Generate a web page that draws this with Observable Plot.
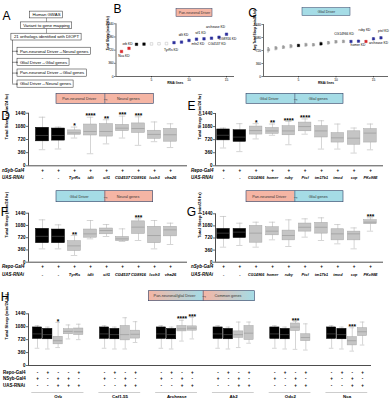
<!DOCTYPE html>
<html><head><meta charset="utf-8">
<script src="https://cdn.jsdelivr.net/npm/d3@7"></script>
<script src="https://cdn.jsdelivr.net/npm/@observablehq/plot@0.6"></script>
<style>
html,body{margin:0;padding:0;background:#fff;}
#fig{position:relative;width:392px;height:400px;overflow:hidden;background:#fff;color:#000;}
#fig svg{position:absolute;}
</style></head><body><div id="fig"></div>
<script>
// ---------------- DATA ----------------
const flowTop = ["Human GWAS", "Variant to gene mapping", "21 orthologs identified with DIOPT"];
const flowBranch = ["Pan-neuronal Driver\u2192Neural genes", "Glial Driver\u2192Glial genes", "Pan-neuronal Driver\u2192Glial genes", "Glial Driver\u2192Neural genes"];

// B: pan-neuronal screen
const bLine = [1,2,3,4,5,6,7,8,9,10,11,12,13,14,15];
const bSleep = [683,770,880,885,890,895,900,925,940,985,1020,1030,1046,1073,1155];
const bClass = ["short","short","control","control","ns","ns","ns","long","long","long","long","long","long","long","long"];
const bLabelText = ["Nca KD","orb KD","TyrRs KD","idlt KD","mfe2 KD","sif1 KD","CG4537 KD","CG8916 KD","archease KD"];
const bLabelLine = [1,2,8,9,12,11,14,15,15];

// C: glial screen
const cLine = [1,2,3,4,5,6,7,8,9,10,11,12,13,14,15,16];
const cSleep = [740,784,812,840,859,878,878,906,933,961,970,970,978,970,1044,1071];
const cSem = [60,45,35,45,30,40,30,45,35,35,30,25,25,25,30,30];
const cClass = ["ns","ns","ns","ns","control","ns","ns","control","ns","ns","ns","long","long","short","long","long"];
const cLabelText = ["CG14966 KD","homer KD","ruby KD","archease KD","ptsf KD"];
const cLabelLine = [12,13,15,14,16];

// D: pan-neuronal driver -> neural genes
const dGenes = ["-","-","TyrRs","idlt","sif1","CG4537","CG8916","lcch3","vha26"];
const dDriver = ["+","+","+","+","+","+","+","+","+"];
const dMin = [440,460,760,330,600,760,560,660,500];
const dQ1  = [670,690,850,830,800,950,900,740,660];
const dMed = [830,830,900,940,940,1030,1020,860,850];
const dQ3  = [1040,1020,970,1130,1140,1120,1160,960,1010];
const dMax = [1330,1060,1060,1330,1260,1360,1340,1200,1150];
const dSig = ["","","*","****","**","***","***","",""];

// E: glial driver -> glial genes
const eGenes = ["-","-","CG14966","homer","ruby","Ptsf","tm17b1","tmod","svp","PKc98E"];
const eDriver = ["+","+","+","+","+","+","+","+","+","+"];
const eMin = [490,390,740,840,580,870,460,460,350,440];
const eQ1  = [700,660,860,880,840,950,780,640,580,640];
const eMed = [840,790,970,960,960,1080,960,770,760,900];
const eQ3  = [1000,980,1080,1040,1090,1190,1090,900,950,1010];
const eMax = [1040,1160,1160,1150,1220,1290,1240,1150,1040,1150];
const eSig = ["","","*","**","****","****","","","",""];

// F: glial driver -> neural genes
const fGenes = dGenes;
const fDriver = ["+","+","+","+","+","+","+","+","+"];
const fMin = [392,392,196,686,755,608,637,392,520];
const fQ1  = [560,560,330,720,820,620,830,560,760];
const fMed = [760,760,480,833,930,686,1030,784,950];
const fQ3  = [980,960,620,960,990,740,1200,1040,1040];
const fMax = [1245,1098,784,1225,1107,980,1274,1225,1147];
const fSig = ["","","**","","","","***","",""];

// G: pan-neuronal driver -> glial genes
const gGenes = eGenes;
const gDriver = ["+","+","+","+","+","+","+","+","+","+"];
const gMin = [447,497,447,665,467,745,645,546,397,923];
const gQ1  = [690,720,580,800,650,910,850,650,650,1130];
const gMed = [864,894,864,923,794,1040,1040,844,844,1190];
const gQ3  = [990,990,1080,1040,940,1150,1170,980,910,1250];
const gMax = [1360,1160,1190,1190,1260,1290,1320,1120,1020,1320];
const gSig = ["","","","","","","","","","***"];

// H: common genes
const hGenes = ["Orb","Caf1-55","Archease","Ak2","Odc2","Nca"];
const hCount = [5,4,4,4,4,4];
const hRepo = ["-","+","-","-","+", "-","+","-","+", "-","+","-","+", "-","+","-","+", "-","+","-","+", "-","+","-","+"];
const hNsyb = ["+","-","+","+","-", "+","-","+","-", "+","-","+","-", "+","-","+","-", "+","-","+","-", "+","-","+","-"];
const hUas  = ["-","-","+","+","+", "-","-","+","+", "-","-","+","+", "-","-","+","+", "-","-","+","+", "-","-","+","+"];
const hMin = [480,460,500,740,720, 480,460,460,640, 480,460,680,740, 480,460,500,620, 480,460,450,430, 480,460,400,570];
const hQ1  = [740,730,590,870,850, 740,730,700,750, 740,730,950,970, 740,730,770,710, 740,730,960,680, 740,730,560,820];
const hMed = [880,860,690,950,940, 880,860,860,870, 880,860,1020,1040, 880,860,860,900, 880,860,1070,780, 880,860,690,940];
const hQ3  = [1060,1020,800,1010,1030, 1060,1020,1100,970, 1060,1020,1100,1090, 1060,1020,950,1100, 1060,1020,1170,870, 1060,1020,790,1040];
const hMax = [1110,1070,1200,1130,1150, 1110,1070,1330,1220, 1110,1070,1260,1340, 1110,1070,1210,1210, 1110,1070,1230,1160, 1110,1070,1050,1210];
const hSig = ["","","*","","", "","","","", "","","****","***", "","","","", "","","***","", "","","***",""];

const sleepTicks = [0,360,720,1080,1440];

// ---------------- STYLE / LAYOUT ----------------
const FONT = '"Liberation Sans", Arial, sans-serif';
const PINK = "#f5b5a4", BLUE = "#a5dce6", BORDER = "#2e3f63";
const WHISK = "#b8b8b8";
const PCOL = {short:"#d9262a", control:"#000000", ns:"#a8a8a8", long:"#2c2f9c"};
const fig = document.getElementById("fig");
function place(svg, left, top){ svg.style.left = left+"px"; svg.style.top = top+"px"; fig.appendChild(svg); }
const fmt = d => String(d);

function boxPanel(c){
  const data = c.pos.map((p,i)=>({p, i, lo:c.lo[i], q1:c.q1[i], med:c.med[i], q3:c.q3[i], hi:c.hi[i], ctrl:c.ctrl[i], star:c.sig[i]}));
  const p0 = c.pos[0];
  const xL = p0 + (c.fx0 - c.c0)/c.step, xR = p0 + (c.fx1 - c.c0)/c.step;
  const hw = c.bw/2/c.step, cw = hw*0.5;
  const marks = [
    Plot.ruleX(data,{x:"p", y1:"lo", y2:"hi", stroke:WHISK, strokeWidth:0.6}),
    Plot.ruleY(data,{y:"lo", x1:d=>d.p-cw, x2:d=>d.p+cw, stroke:WHISK, strokeWidth:0.6}),
    Plot.ruleY(data,{y:"hi", x1:d=>d.p-cw, x2:d=>d.p+cw, stroke:WHISK, strokeWidth:0.6}),
    Plot.rect(data,{x1:d=>d.p-hw, x2:d=>d.p+hw, y1:"q1", y2:"q3", fill:d=>d.ctrl?"#000":"#c5c5c5", stroke:d=>d.ctrl?"#000":"#a6a6a6", strokeWidth:0.5}),
    Plot.ruleY(data,{y:"med", x1:d=>d.p-hw, x2:d=>d.p+hw, stroke:d=>d.ctrl?"#6d6d6d":"#8a8a8a", strokeWidth:0.5}),
    Plot.text(data.filter(d=>d.star),{x:"p", y:"hi", text:"star", lineAnchor:"bottom", dy:c.starDy, fontSize:c.starFs, fontWeight:"bold"}),
    Plot.ruleX([xL],{strokeWidth:0.7}),
    Plot.ruleY([0],{strokeWidth:0.7}),
    Plot.axisY({ticks:sleepTicks, tickFormat:fmt, tickSize:2, tickPadding:1, fontSize:c.tickFs, fontWeight:"bold", label:null, strokeWidth:0.6}),
    Plot.text([c.title],{frameAnchor:"left", dx:c.titleX-c.fx0, rotate:-90, text:d=>d, fontSize:c.titleFs, fontWeight:"bold"})
  ];
  c.rows.forEach((r,k)=>{
    marks.push(Plot.text(data,{x:"p", text:d=>r.vals[d.i], frameAnchor:"bottom", dy:c.rowDy[k], fontSize:r.fs||c.rowFs, fontWeight:"bold", fontStyle:r.italic?"italic":"normal"}));
    marks.push(Plot.text([r.name],{frameAnchor:"bottom-left", dx:c.rowX-c.fx0, dy:c.rowDy[k], text:d=>d, textAnchor:"start", fontSize:c.rowFs, fontWeight:"bold", fontStyle:c.rowItalic?"italic":"normal"}));
  });
  if (c.extra) marks.push(...c.extra(xL, xR));
  return Plot.plot({
    width:c.width, height:c.height,
    marginLeft:c.fx0-c.left, marginRight:c.left+c.width-c.fx1,
    marginTop:c.fyTop-c.top, marginBottom:c.top+c.height-c.fy0,
    x:{domain:[xL,xR], axis:null}, y:{domain:[0,1440]},
    color:{type:"identity"},
    style:{background:"none", fontFamily:FONT, overflow:"visible"},
    marks
  });
}

function scatterPanel(c){
  const data = c.idx.map((x,i)=>({x, y:c.val[i], k:c.cls[i], e:c.err?c.err[i]:0}));
  const xL = (c.fx0 - c.zeroX)/c.stepx, xR = (c.fx1 - c.zeroX)/c.stepx;
  const pxY = 1440/(c.fy0 - c.fyTop);
  // label anchors: data point shifted by a pixel offset converted to data units
  const lab = c.labText.map((t,j)=>({t, x:c.labLine[j] + c.labDx[j]/c.stepx, y:c.val[c.labLine[j]-1] - c.labDy[j]*pxY, a:c.labAnchor[j]}));
  const marks = [];
  if (c.err) {
    marks.push(Plot.ruleX(data,{x:"x", y1:d=>d.y-d.e, y2:d=>d.y+d.e, stroke:"#666", strokeWidth:0.4}));
    marks.push(Plot.ruleY(data,{y:d=>d.y-d.e, x1:d=>d.x-0.13, x2:d=>d.x+0.13, stroke:"#666", strokeWidth:0.4}));
    marks.push(Plot.ruleY(data,{y:d=>d.y+d.e, x1:d=>d.x-0.13, x2:d=>d.x+0.13, stroke:"#666", strokeWidth:0.4}));
  }
  marks.push(
    Plot.dot(data,{x:"x", y:"y", symbol:"square", r:c.r, fill:d=>d.k==="ns"?(c.err?"#999":"#fff"):PCOL[d.k], stroke:d=>PCOL[d.k], strokeWidth:0.4}),
    ...["start","middle"].map(a=>Plot.text(lab.filter(l=>l.a===a),{x:"x", y:"y", text:"t", textAnchor:a, fontSize:c.labFs})),
    Plot.ruleX([xL],{strokeWidth:0.6}),
    Plot.ruleY([0],{strokeWidth:0.6}),
    Plot.axisY({ticks:sleepTicks, tickFormat:fmt, tickSize:1.5, tickPadding:0.8, fontSize:3.3, label:null, strokeWidth:0.5}),
    Plot.axisX({ticks:[5,10,15], tickFormat:fmt, tickSize:1.5, tickPadding:0.6, fontSize:3.3, label:null, strokeWidth:0.5}),
    Plot.text(["RNAi lines"],{frameAnchor:"bottom", dy:7.5, text:d=>d, fontSize:3.2, fontWeight:"bold"}),
    Plot.text([c.title],{frameAnchor:"left", dx:c.titleX-c.fx0, rotate:-90, text:d=>d, fontSize:3.2, fontWeight:"bold"})
  );
  return Plot.plot({
    width:c.width, height:c.height,
    marginLeft:c.fx0-c.left, marginRight:c.left+c.width-c.fx1,
    marginTop:c.fyTop-c.top, marginBottom:c.top+c.height-c.fy0,
    x:{domain:[xL,xR]}, y:{domain:[0,1440]},
    color:{type:"identity"},
    style:{background:"none", fontFamily:FONT, overflow:"visible"},
    marks
  });
}

// ---- B ----
place(scatterPanel({
  left:100, top:0, width:145, height:90, fx0:115.5, fx1:234, fyTop:23.3, fy0:76,
  zeroX:113.5, stepx:7.5, idx:bLine, val:bSleep, cls:bClass, r:1.45,
  labText:bLabelText, labLine:bLabelLine,
  labDx:[2.5,-1.5,-3,2,-6,4,-2,1,-11], labDy:[4.5,-4.5,7.5,-7.5,5.2,-6,6.8,4.6,-7.5],
  labAnchor:["middle","middle","middle","middle","middle","middle","middle","middle","middle"], labFs:3.3,
  title:"Total Sleep (min/24 hr)", titleX:107.5
}), 100, 0);

// ---- C ----
place(scatterPanel({
  left:245, top:0, width:147, height:90, fx0:263, fx1:388, fyTop:24, fy0:76,
  zeroX:260.5, stepx:7.5, idx:cLine, val:cSleep, err:cSem, cls:cClass, r:1.35,
  labText:cLabelText, labLine:cLabelLine,
  labDx:[-7,-0.5,-9,3,2.5], labDy:[-8,4,-8.5,1,-6.5],
  labAnchor:["middle","middle","middle","start","middle"], labFs:3.3,
  title:"Avg Total Sleep (min/24 hr)", titleX:254.5
}), 245, 0);

// ---- D, E, F, G ----
const neuralCfg = {width:196, fx0:28, fx1:187, c0:42, step:16, bw:13, rowX:1.5, titleX:6};
const glialCfg  = {width:204, fx0:215, fx1:383, c0:223, step:16.33, bw:12.5, rowX:190.5, titleX:199};
const common = {tickFs:4.6, titleFs:4.3, rowFs:4.5, starFs:6.5, starDy:1.2, rowItalic:true, title:"Total Sleep (min/24 hr)"};

place(boxPanel({...common, ...neuralCfg, left:0, top:104, height:84, fyTop:112.7, fy0:165.3,
  pos:d3.range(dGenes.length), lo:dMin, q1:dQ1, med:dMed, q3:dQ3, hi:dMax, sig:dSig, ctrl:dGenes.map(g=>g==="-"),
  rows:[{name:"nSyb-Gal4", vals:dDriver}, {name:"UAS-RNAi", vals:dGenes, italic:true, fs:4.1}], rowDy:[6.4,13.2]}), 0, 104);

place(boxPanel({...common, ...glialCfg, left:188, top:104, height:84, fyTop:113, fy0:165.3,
  pos:d3.range(eGenes.length), lo:eMin, q1:eQ1, med:eMed, q3:eQ3, hi:eMax, sig:eSig, ctrl:eGenes.map(g=>g==="-"),
  rows:[{name:"Repo-Gal4", vals:eDriver}, {name:"UAS-RNAi", vals:eGenes, italic:true, fs:3.8}], rowDy:[6.4,13.2]}), 188, 104);

place(boxPanel({...common, ...neuralCfg, left:0, top:200, height:82, fyTop:212.7, fy0:261.7,
  pos:d3.range(fGenes.length), lo:fMin, q1:fQ1, med:fMed, q3:fQ3, hi:fMax, sig:fSig, ctrl:fGenes.map(g=>g==="-"),
  rows:[{name:"Repo-Gal4", vals:fDriver}, {name:"UAS-RNAi", vals:fGenes, italic:true, fs:4.1}], rowDy:[5.8,13.3]}), 0, 200);

place(boxPanel({...common, ...glialCfg, left:188, top:200, height:82, fyTop:213.3, fy0:261.7,
  pos:d3.range(gGenes.length), lo:gMin, q1:gQ1, med:gMed, q3:gQ3, hi:gMax, sig:gSig, ctrl:gGenes.map(g=>g==="-"),
  rows:[{name:"nSyb-Gal4", vals:gDriver}, {name:"UAS-RNAi", vals:gGenes, italic:true, fs:3.8}], rowDy:[5.8,13.3]}), 188, 200);

// ---- H ----
const hPos = [], hCtrl = [], hGroups = [];
{ let start = 0;
  hGenes.forEach((g,k)=>{
    for (let j=0;j<hCount[k];j++){ hPos.push(start+j); hCtrl.push(j<2); }
    hGroups.push({g, a:start, b:start+hCount[k]-1});
    start += hCount[k] + 1.5;
  });
}
place(boxPanel({...common, rowItalic:false, left:0, top:300, width:392, height:100, fx0:28, fx1:371, fyTop:313.3, fy0:365,
  c0:37, step:10.32, bw:9.2, rowX:2.5, titleX:6, tickFs:4.6,
  pos:hPos, lo:hMin, q1:hQ1, med:hMed, q3:hQ3, hi:hMax, sig:hSig, ctrl:hCtrl,
  rows:[{name:"Repo-Gal4", vals:hRepo}, {name:"NSyb-Gal4", vals:hNsyb}, {name:"UAS-RNAi", vals:hUas}], rowDy:[8.3,14.3,21],
  extra:()=>[
    Plot.ruleY(hGroups,{x1:d=>d.a-0.55, x2:d=>d.b+0.5, y:0, dy:27, stroke:"#9a9a9a", strokeWidth:0.5}),
    Plot.text(hGroups,{x:d=>(d.a+d.b)/2, text:"g", frameAnchor:"bottom", dy:32, fontSize:4.4, fontWeight:"bold"})
  ]}), 0, 300);

// ---- Overlay: letters, headers, flowchart ----
const ctx = document.createElement("canvas").getContext("2d");
function tw(s, fs){ ctx.font = `${fs}px "Liberation Sans"`; return ctx.measureText(s).width; }
const flowFs = 4.3;
const topY = [14.5,25.3,36.6], branchY = [50.8,61.8,72.6,83.6];
const topBoxes = flowTop.map((s,i)=>{const w=tw(s,flowFs)+5; return {s, x1:46-w/2, x2:46+w/2, y1:topY[i]-3.4, y2:topY[i]+3.4, cx:46, cy:topY[i]};});
const brBoxes = flowBranch.map((s,i)=>{const w=tw(s,flowFs)+5; return {s, x1:17, x2:17+w, y1:branchY[i]-3.6, y2:branchY[i]+3.6, cx:19.5, cy:branchY[i]};});

const letters = ["A","B","C","D","E","F","G","H"];
const letterXY = [[6,16],[117,8.5],[252,13],[5,116],[191,106],[4,212],[191,212],[4.5,297]];
const splitHdrText = [["Pan-neuronal Driver","Neural genes"],["Glial Driver","Glial genes"],["Glial Driver","Neural genes"],["Pan-neuronal Driver","Glial genes"],["Pan-neuronal/glial Driver","Common genes"]];
const splitHdrGeo = [
  {x0:56,xm:104.3,x1:153.3,y0:93.3,y1:103.3,lc:PINK,rc:PINK},
  {x0:246,xm:294.3,x1:343,y0:93.3,y1:103.3,lc:BLUE,rc:BLUE},
  {x0:56,xm:104.3,x1:152.7,y0:190.7,y1:201.7,lc:BLUE,rc:PINK},
  {x0:246,xm:294.3,x1:343,y0:190.7,y1:201.7,lc:PINK,rc:BLUE},
  {x0:148.3,xm:202.7,x1:254.3,y0:290.7,y1:300.7,lc:"url(#gH)",rc:"url(#gH)"}
];
const hdrHalves = [], hdrLabels = [];
splitHdrGeo.forEach((g,i)=>{
  hdrHalves.push({x1:g.x0,x2:g.xm,y1:g.y0,y2:g.y1,f:g.lc},{x1:g.xm,x2:g.x1,y1:g.y0,y2:g.y1,f:g.rc});
  hdrLabels.push({t:splitHdrText[i][0], x:(g.x0+g.xm)/2-1.5, y:(g.y0+g.y1)/2},{t:splitHdrText[i][1], x:(g.xm+g.x1)/2-1, y:(g.y0+g.y1)/2});
});
const singleHdrText = ["Pan-neuronal Driver","Glial Driver"];
const singleHdrGeo = [{x1:176,x2:212,y1:8.5,y2:16.5,f:PINK},{x1:302,x2:350,y1:7.5,y2:15.5,f:BLUE}];
const singleHdr = singleHdrGeo.map((g,i)=>({...g, t:singleHdrText[i]}));

const ov = Plot.plot({
  width:392, height:400, margin:0,
  x:{domain:[0,392], range:[0,392], axis:null}, y:{domain:[0,400], range:[0,400], axis:null},
  color:{type:"identity"},
  style:{background:"none", fontFamily:FONT, overflow:"visible"},
  marks:[
    // flowchart
    Plot.rect(topBoxes.concat(brBoxes),{x1:"x1",x2:"x2",y1:"y1",y2:"y2",fill:"#fff",stroke:"#222",strokeWidth:0.5}),
    Plot.text(topBoxes,{x:"cx",y:"cy",text:"s",fontSize:flowFs}),
    Plot.text(brBoxes,{x:"cx",y:"cy",text:"s",fontSize:flowFs,textAnchor:"start"}),
    Plot.ruleX([12],{y1:topY[2]+3.4,y2:branchY[3],stroke:"#222",strokeWidth:0.5}),
    Plot.arrow(branchY,{x1:12,x2:16.8,y1:d=>d,y2:d=>d,headLength:2,stroke:"#222",strokeWidth:0.5}),
    Plot.ruleX([46],{y1:topY[0]+3.4,y2:topY[1]-3.4,stroke:"#222",strokeWidth:0.4}),
    Plot.ruleX([46],{y1:topY[1]+3.4,y2:topY[2]-3.4,stroke:"#222",strokeWidth:0.4}),
    // headers
    Plot.rect(singleHdr,{x1:"x1",x2:"x2",y1:"y1",y2:"y2",fill:"f",stroke:BORDER,strokeWidth:0.5}),
    Plot.text(singleHdr,{x:d=>(d.x1+d.x2)/2,y:d=>(d.y1+d.y2)/2,text:"t",fontSize:3.5,fill:"#333"}),
    Plot.rect(hdrHalves,{x1:"x1",x2:"x2",y1:"y1",y2:"y2",fill:"f"}),
    Plot.rect(splitHdrGeo,{x1:"x0",x2:"x1",y1:"y0",y2:"y1",fill:"none",stroke:BORDER,strokeWidth:0.6}),
    Plot.ruleX(splitHdrGeo,{x:"xm",y1:"y0",y2:"y1",stroke:BORDER,strokeWidth:0.6}),
    Plot.text(hdrLabels,{x:"x",y:"y",text:"t",fontSize:3.8,fill:"#333"}),
    Plot.text(splitHdrGeo,{x:d=>d.xm+1,y:d=>(d.y0+d.y1)/2,text:()=>"\u2192",fontSize:6,fill:"#111"}),
    // panel letters
    Plot.text(letters,{x:(d,i)=>letterXY[i][0],y:(d,i)=>letterXY[i][1],text:d=>d,fontSize:12})
  ]
});
d3.select(ov).insert("defs",":first-child").html('<linearGradient id="gH" x1="0" x2="1" y1="0" y2="0"><stop offset="0" stop-color="'+PINK+'"/><stop offset="1" stop-color="'+BLUE+'"/></linearGradient>');
place(ov, 0, 0);
</script></body></html>
